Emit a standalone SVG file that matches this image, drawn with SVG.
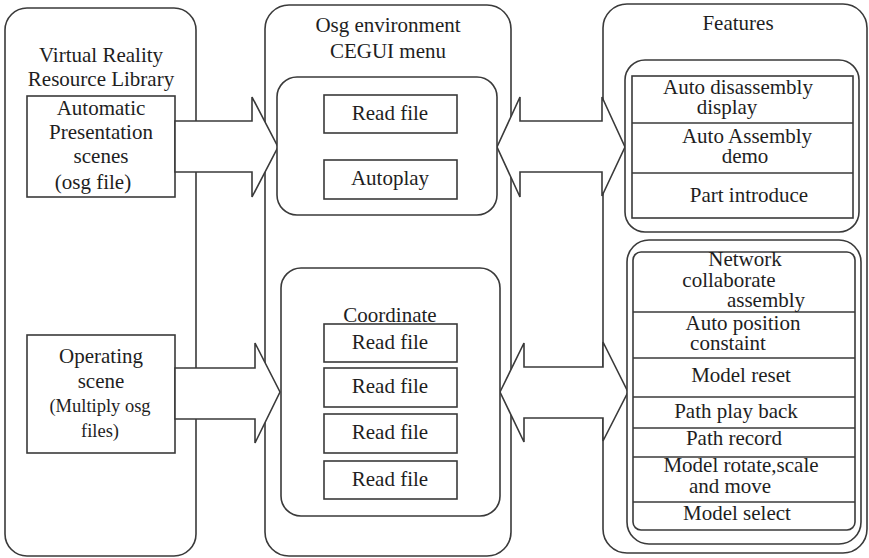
<svg xmlns="http://www.w3.org/2000/svg" width="869" height="558" viewBox="0 0 869 558">
  <style>
    .frame { fill: #fff; stroke: #3a3a3a; stroke-width: 1.6; }
    .box { fill: #fff; stroke: #3a3a3a; stroke-width: 1.6; }
    .line { fill: none; stroke: #3a3a3a; stroke-width: 1.6; }
    .arrow { fill: #fff; stroke: #3a3a3a; stroke-width: 1.6; stroke-linejoin: miter; }
    .t { font-size: 21px; fill: #1e1e1e; text-anchor: middle; }
    .sm { font-size: 18.5px; }
  </style>
  <rect width="869" height="558" fill="#fff"/>

  <g font-family="'Liberation Serif', 'Times New Roman', Times, 'DejaVu Serif', serif">
  <!-- Left column: resource library -->
  <g id="library">
    <rect class="frame" x="5" y="8" width="191" height="548" rx="22"/>
    <text class="t" x="101" y="62">Virtual Reality</text>
    <text class="t" x="101" y="86">Resource Library</text>
  </g>
  <g id="auto-scenes">
    <rect class="box" x="27" y="96" width="148" height="101"/>
    <text class="t" x="101" y="115">Automatic</text>
    <text class="t" x="101" y="139">Presentation</text>
    <text class="t" x="101" y="163">scenes</text>
    <text class="t" x="93" y="189">(osg file)</text>
  </g>
  <g id="operating-scene">
    <rect class="box" x="27" y="335" width="148" height="118"/>
    <text class="t" x="101" y="363">Operating</text>
    <text class="t" x="101" y="388">scene</text>
    <text class="t sm" x="100" y="412">(Multiply osg</text>
    <text class="t sm" x="100" y="437">files)</text>
  </g>

  <!-- Middle column: OSG environment -->
  <g id="osg-env">
    <rect class="frame" x="265" y="5" width="246" height="551" rx="24"/>
    <text class="t" x="388" y="32">Osg environment</text>
    <text class="t" x="388" y="58">CEGUI menu</text>
  </g>

  <!-- Right column: features -->
  <g id="features">
    <rect class="frame" x="603" y="4" width="264" height="549" rx="24"/>
    <text class="t" x="738" y="30">Features</text>
  </g>

  <!-- Connectors (block arrows) -->
  <g id="connectors">
    <polygon class="arrow" points="175,121 252,121 252,97 278,147 252,197 252,172 175,172"/>
    <polygon class="arrow" points="175,368 255,368 255,343 280,392 255,443 255,419 175,419"/>
    <polygon class="arrow" points="497,147 520,97 520,121 602,121 602,97 625,147 602,196 602,172 520,172 520,197"/>
    <polygon class="arrow" points="500,392 524,343 524,367 603,367 603,342 628,392 603,441 603,418 524,418 524,442"/>
  </g>

  <g id="menu-top">
    <rect class="box" x="277" y="77" width="220" height="138" rx="20"/>
  </g>
  <g id="read-file-1">
    <rect class="box" x="324" y="95" width="133" height="38"/>
    <text class="t" x="390" y="120">Read file</text>
  </g>
  <g id="autoplay">
    <rect class="box" x="324" y="160" width="133" height="39"/>
    <text class="t" x="390" y="185">Autoplay</text>
  </g>

  <g id="menu-bottom">
    <rect class="box" x="281" y="268" width="219" height="248" rx="20"/>
    <text class="t" x="390" y="322">Coordinate</text>
  </g>
  <g id="read-file-2">
    <rect class="box" x="324" y="324" width="133" height="38"/>
    <text class="t" x="390" y="349">Read file</text>
  </g>
  <g id="read-file-3">
    <rect class="box" x="324" y="368" width="133" height="39"/>
    <text class="t" x="390" y="393">Read file</text>
  </g>
  <g id="read-file-4">
    <rect class="box" x="324" y="414" width="133" height="39"/>
    <text class="t" x="390" y="439">Read file</text>
  </g>
  <g id="read-file-5">
    <rect class="box" x="324" y="461" width="133" height="38"/>
    <text class="t" x="390" y="486">Read file</text>
  </g>

  <!-- Presentation feature list -->
  <g id="feature-group-auto">
    <rect class="box" x="625" y="60" width="234" height="172" rx="20"/>
    <rect class="box" x="632" y="76" width="221" height="142"/>
    <line class="line" x1="632" y1="123" x2="853" y2="123"/>
    <line class="line" x1="632" y1="173" x2="853" y2="173"/>
    <text class="t" x="738" y="94">Auto disassembly</text>
    <text class="t" x="727" y="114">display</text>
    <text class="t" x="747" y="143">Auto Assembly</text>
    <text class="t" x="745" y="163">demo</text>
    <text class="t" x="749" y="202">Part introduce</text>
  </g>

  <!-- Interactive feature list -->
  <g id="feature-group-interactive">
    <rect class="box" x="627" y="240" width="234" height="304" rx="22"/>
    <rect class="box" x="633" y="252" width="222" height="278" rx="8"/>
    <line class="line" x1="633" y1="312" x2="855" y2="312"/>
    <line class="line" x1="633" y1="358" x2="855" y2="358"/>
    <line class="line" x1="633" y1="397" x2="855" y2="397"/>
    <line class="line" x1="633" y1="428" x2="855" y2="428"/>
    <line class="line" x1="633" y1="457" x2="855" y2="457"/>
    <line class="line" x1="633" y1="502" x2="855" y2="502"/>
    <text class="t" x="745" y="266">Network</text>
    <text class="t" x="729" y="287">collaborate</text>
    <text class="t" x="766" y="307">assembly</text>
    <text class="t" x="743" y="330">Auto position</text>
    <text class="t" x="728" y="350">constaint</text>
    <text class="t" x="741" y="382">Model reset</text>
    <text class="t" x="736" y="418">Path play back</text>
    <text class="t" x="734" y="445">Path record</text>
    <text class="t" x="741" y="472">Model rotate,scale</text>
    <text class="t" x="730" y="493">and move</text>
    <text class="t" x="737" y="520">Model select</text>
  </g>
  </g>
</svg>
